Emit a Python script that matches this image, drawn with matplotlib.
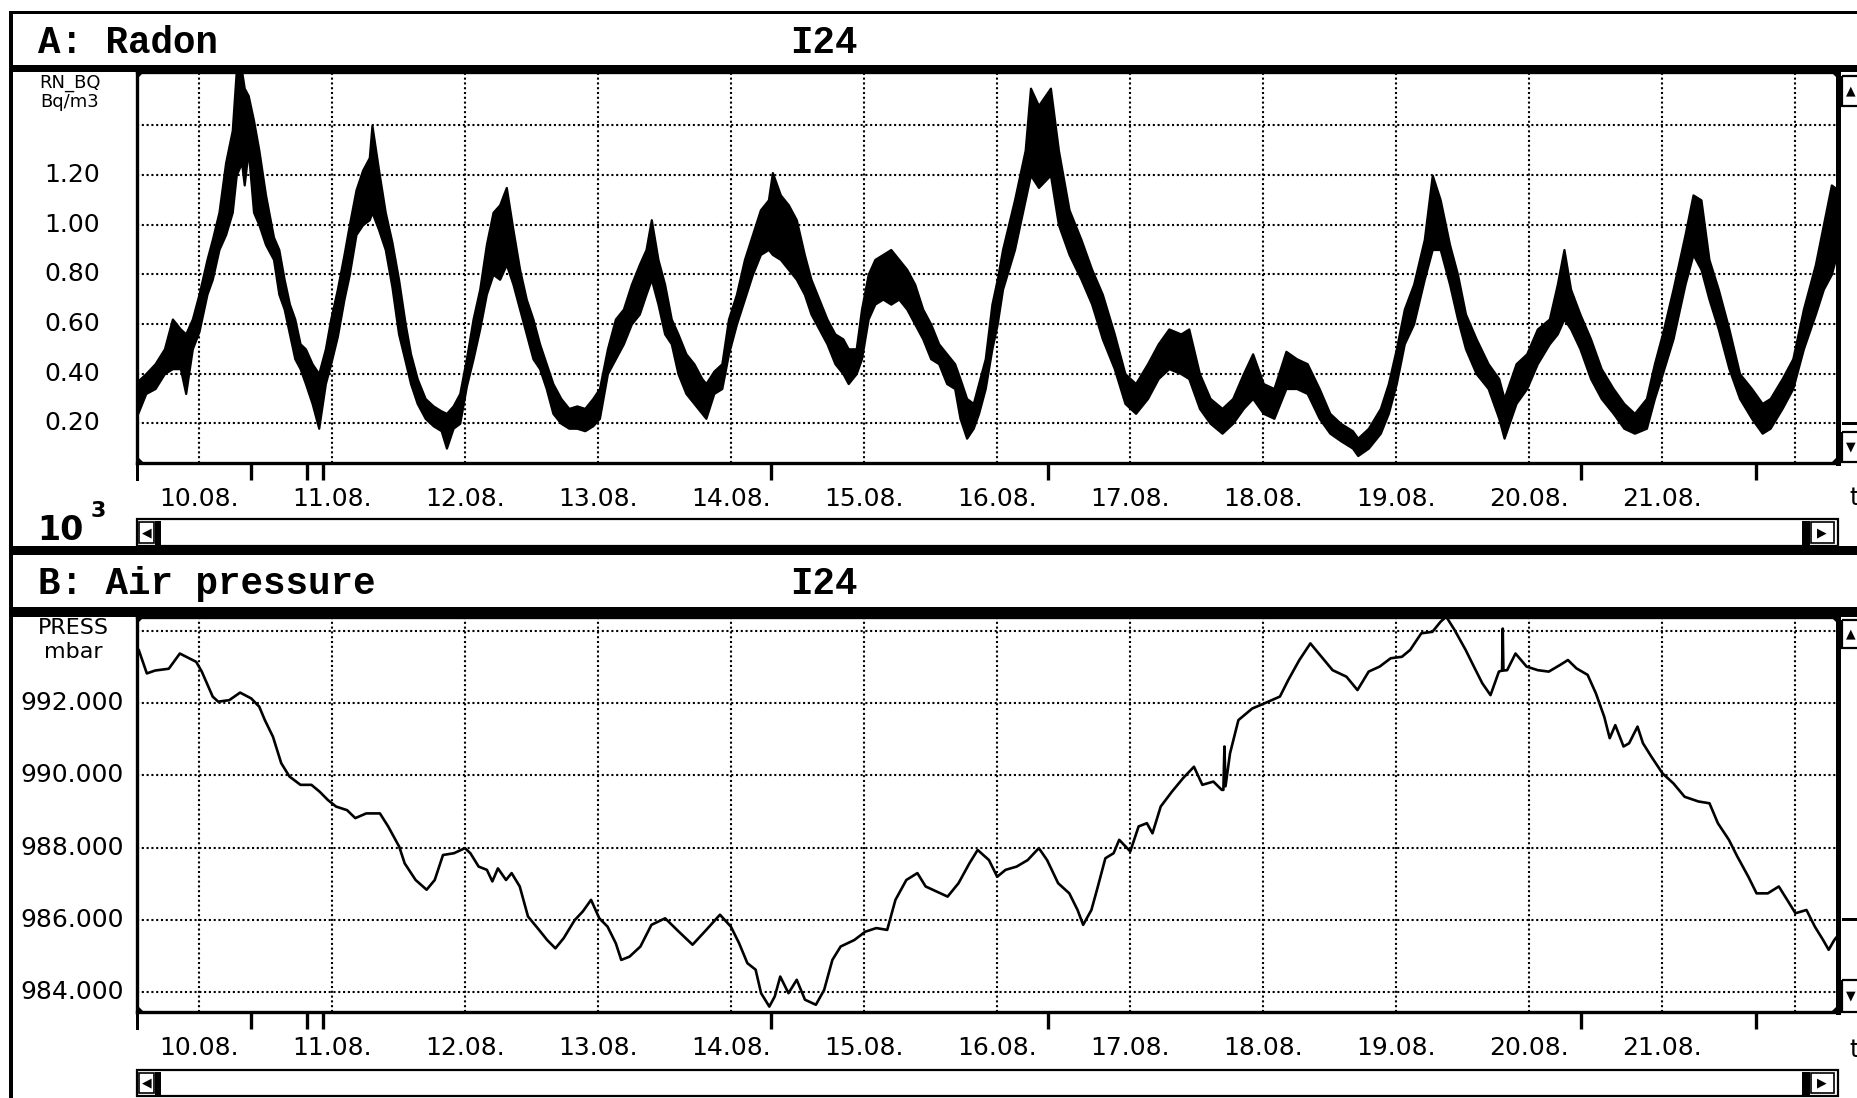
import matplotlib

matplotlib.use("Agg")
import matplotlib.pyplot as plt
from matplotlib.patches import Rectangle, Polygon

W, H = 1858, 1098

# time in days after 10.08. 00:00
rn_t = [-0.46, -0.40, -0.33, -0.26, -0.20, -0.14, -0.10, -0.05, 0.00, 0.06,
        0.10, 0.15, 0.20, 0.25, 0.28, 0.32, 0.34, 0.37, 0.41, 0.45,
        0.50, 0.56, 0.60, 0.64, 0.68, 0.72, 0.76, 0.80, 0.85, 0.90,
        0.95, 0.99, 1.04, 1.09, 1.13, 1.18, 1.23, 1.28, 1.30, 1.35,
        1.40, 1.45, 1.50, 1.55, 1.59, 1.64, 1.70, 1.76, 1.82, 1.86,
        1.91, 1.96, 2.01, 2.06, 2.11, 2.16, 2.21, 2.26, 2.31, 2.36,
        2.41, 2.46, 2.51, 2.56, 2.61, 2.66, 2.72, 2.78, 2.84, 2.90,
        2.96, 3.01, 3.07, 3.13, 3.19, 3.25, 3.31, 3.36, 3.40, 3.45,
        3.50, 3.55, 3.60, 3.66, 3.72, 3.78, 3.81, 3.87, 3.93, 3.98,
        4.04, 4.10, 4.16, 4.22, 4.28, 4.31, 4.37, 4.43, 4.49, 4.55,
        4.60, 4.66, 4.72, 4.78, 4.84, 4.88, 4.94, 4.98, 5.03, 5.08,
        5.14, 5.20, 5.26, 5.32, 5.38, 5.44, 5.50, 5.56, 5.62, 5.68,
        5.72, 5.77, 5.82, 5.86, 5.91, 5.96, 6.00, 6.04, 6.13, 6.21,
        6.25, 6.31, 6.40, 6.46, 6.54, 6.63, 6.71, 6.79, 6.88, 6.96,
        7.04, 7.13, 7.21, 7.29, 7.38, 7.44, 7.52, 7.60, 7.69, 7.77,
        7.85, 7.92, 8.00, 8.08, 8.17, 8.25, 8.33, 8.42, 8.50, 8.58,
        8.67, 8.71, 8.79, 8.88, 8.94, 9.00, 9.06, 9.13, 9.21, 9.27,
        9.33, 9.40, 9.46, 9.52, 9.60, 9.69, 9.77, 9.81, 9.90, 9.98,
        10.06, 10.15, 10.21, 10.26, 10.31, 10.38, 10.46, 10.54, 10.63, 10.71,
        10.79, 10.88, 10.94, 11.00, 11.08, 11.17, 11.23, 11.29, 11.35, 11.42,
        11.50, 11.58, 11.67, 11.75, 11.81, 11.90, 11.98, 12.06, 12.15, 12.21,
        12.27, 12.32]
# radon band, lower / upper edge (10^3 Bq/m3)
rn_lo = [0.24, 0.32, 0.34, 0.40, 0.42, 0.42, 0.32, 0.50, 0.57, 0.72,
         0.78, 0.90, 0.96, 1.05, 1.20, 1.25, 1.16, 1.30, 1.05, 1.00,
         0.92, 0.86, 0.72, 0.66, 0.56, 0.46, 0.42, 0.36, 0.28, 0.18,
         0.36, 0.44, 0.55, 0.70, 0.80, 0.96, 1.00, 1.02, 1.05, 0.98,
         0.90, 0.75, 0.56, 0.45, 0.36, 0.28, 0.22, 0.19, 0.17, 0.10,
         0.18, 0.20, 0.35, 0.46, 0.58, 0.72, 0.80, 0.78, 0.84, 0.76,
         0.66, 0.56, 0.46, 0.42, 0.34, 0.24, 0.20, 0.18, 0.18, 0.17,
         0.19, 0.22, 0.40, 0.46, 0.52, 0.60, 0.64, 0.72, 0.78, 0.68,
         0.56, 0.52, 0.40, 0.32, 0.28, 0.24, 0.22, 0.32, 0.34, 0.48,
         0.60, 0.70, 0.80, 0.88, 0.90, 0.88, 0.86, 0.82, 0.78, 0.72,
         0.64, 0.58, 0.52, 0.44, 0.40, 0.36, 0.40, 0.46, 0.62, 0.68,
         0.70, 0.68, 0.70, 0.66, 0.60, 0.54, 0.46, 0.44, 0.36, 0.34,
         0.22, 0.14, 0.18, 0.24, 0.34, 0.50, 0.60, 0.74, 0.90, 1.10,
         1.20, 1.15, 1.20, 1.00, 0.88, 0.78, 0.68, 0.54, 0.42, 0.28,
         0.24, 0.30, 0.38, 0.42, 0.40, 0.38, 0.26, 0.20, 0.16, 0.20,
         0.26, 0.30, 0.24, 0.22, 0.34, 0.34, 0.32, 0.22, 0.16, 0.13,
         0.10, 0.07, 0.10, 0.16, 0.24, 0.36, 0.52, 0.60, 0.78, 0.90,
         0.90, 0.76, 0.62, 0.50, 0.40, 0.34, 0.22, 0.14, 0.28, 0.34,
         0.44, 0.52, 0.56, 0.62, 0.58, 0.50, 0.38, 0.30, 0.24, 0.18,
         0.16, 0.18, 0.30, 0.40, 0.54, 0.76, 0.88, 0.82, 0.70, 0.58,
         0.42, 0.30, 0.22, 0.16, 0.18, 0.26, 0.34, 0.50, 0.64, 0.74,
         0.80, 0.90]
rn_hi = [0.37, 0.40, 0.44, 0.50, 0.62, 0.58, 0.56, 0.62, 0.72, 0.86,
         0.94, 1.05, 1.25, 1.38, 1.62, 1.62, 1.55, 1.52, 1.42, 1.30,
         1.12, 0.95, 0.90, 0.78, 0.68, 0.62, 0.52, 0.50, 0.44, 0.40,
         0.50, 0.62, 0.74, 0.88, 1.00, 1.14, 1.22, 1.27, 1.40, 1.22,
         1.05, 0.93, 0.78, 0.60, 0.48, 0.38, 0.30, 0.27, 0.25, 0.24,
         0.27, 0.32, 0.46, 0.62, 0.74, 0.92, 1.05, 1.08, 1.15, 0.98,
         0.82, 0.70, 0.62, 0.52, 0.44, 0.36, 0.30, 0.26, 0.27, 0.26,
         0.30, 0.34, 0.50, 0.62, 0.66, 0.76, 0.84, 0.90, 1.02, 0.86,
         0.76, 0.62, 0.56, 0.48, 0.44, 0.38, 0.36, 0.41, 0.44, 0.62,
         0.72, 0.86, 0.96, 1.06, 1.10, 1.21, 1.12, 1.08, 1.02, 0.88,
         0.78, 0.70, 0.62, 0.56, 0.54, 0.50, 0.50, 0.66, 0.80, 0.86,
         0.88, 0.90, 0.86, 0.82, 0.76, 0.66, 0.60, 0.52, 0.48, 0.44,
         0.38, 0.30, 0.28, 0.36, 0.46, 0.68, 0.78, 0.90, 1.10, 1.30,
         1.55, 1.48, 1.55, 1.30, 1.06, 0.94, 0.82, 0.72, 0.56, 0.40,
         0.36, 0.44, 0.52, 0.58, 0.56, 0.58, 0.40, 0.30, 0.26, 0.30,
         0.40, 0.48, 0.36, 0.34, 0.49, 0.46, 0.44, 0.34, 0.24, 0.20,
         0.17, 0.14, 0.18, 0.26, 0.36, 0.50, 0.66, 0.76, 0.94, 1.20,
         1.10, 0.92, 0.80, 0.64, 0.54, 0.44, 0.38, 0.30, 0.44, 0.48,
         0.58, 0.62, 0.76, 0.90, 0.74, 0.64, 0.54, 0.42, 0.34, 0.28,
         0.24, 0.30, 0.44, 0.56, 0.74, 0.96, 1.12, 1.10, 0.86, 0.74,
         0.58, 0.40, 0.34, 0.28, 0.30, 0.38, 0.46, 0.66, 0.84, 1.00,
         1.16, 1.14]

p_t = [-0.466, -0.453, -0.392, -0.330, -0.227, -0.144, -0.021, 0.021, 0.103, 0.144,
       0.227, 0.309, 0.392, 0.453, 0.495, 0.556, 0.618, 0.680, 0.763, 0.845,
       0.907, 0.969, 1.030, 1.113, 1.175, 1.257, 1.360, 1.422, 1.505, 1.546,
       1.628, 1.711, 1.772, 1.834, 1.917, 1.999, 2.040, 2.102, 2.164, 2.205,
       2.247, 2.308, 2.350, 2.411, 2.473, 2.556, 2.617, 2.679, 2.741, 2.824,
       2.885, 2.947, 3.009, 3.071, 3.133, 3.174, 3.236, 3.318, 3.401, 3.504,
       3.607, 3.710, 3.813, 3.916, 3.998, 4.060, 4.122, 4.184, 4.225, 4.287,
       4.328, 4.369, 4.431, 4.493, 4.555, 4.637, 4.699, 4.761, 4.823, 4.926,
       5.008, 5.091, 5.173, 5.235, 5.317, 5.400, 5.462, 5.544, 5.627, 5.709,
       5.791, 5.853, 5.938, 6.000, 6.063, 6.146, 6.229, 6.313, 6.375, 6.458,
       6.542, 6.604, 6.646, 6.708, 6.750, 6.813, 6.875, 6.917, 7.000, 7.063,
       7.125, 7.167, 7.229, 7.313, 7.396, 7.479, 7.542, 7.625, 7.688, 7.700,
       7.708, 7.716, 7.750, 7.813, 7.917, 8.013, 8.125, 8.188, 8.271, 8.354,
       8.438, 8.521, 8.625, 8.708, 8.792, 8.875, 8.958, 9.042, 9.104, 9.188,
       9.271, 9.333, 9.375, 9.438, 9.521, 9.583, 9.646, 9.708, 9.771, 9.795,
       9.800, 9.805, 9.833, 9.896, 9.979, 10.063, 10.146, 10.229, 10.290, 10.354,
       10.438, 10.500, 10.563, 10.604, 10.646, 10.708, 10.750, 10.813, 10.854, 10.917,
       11.000, 11.083, 11.167, 11.271, 11.354, 11.417, 11.500, 11.563, 11.646, 11.708,
       11.792, 11.875, 11.938, 12.000, 12.083, 12.146, 12.208, 12.250, 12.292, 12.325]
# air pressure (mbar)
p_mbar = [993.51, 993.47, 992.82, 992.90, 992.95, 993.37, 993.14, 992.87, 992.18, 992.04,
          992.08, 992.29, 992.13, 991.90, 991.53, 991.07, 990.34, 989.97, 989.74, 989.74,
          989.55, 989.32, 989.14, 989.04, 988.82, 988.95, 988.95, 988.59, 988.03, 987.57,
          987.11, 986.84, 987.11, 987.80, 987.85, 987.99, 987.85, 987.48, 987.39, 987.07,
          987.43, 987.11, 987.30, 986.93, 986.10, 985.73, 985.45, 985.22, 985.50, 986.00,
          986.24, 986.56, 986.05, 985.82, 985.36, 984.90, 984.99, 985.27, 985.87, 986.05,
          985.68, 985.32, 985.73, 986.15, 985.82, 985.36, 984.81, 984.63, 983.98, 983.61,
          983.89, 984.44, 983.98, 984.35, 983.80, 983.66, 984.07, 984.90, 985.27, 985.45,
          985.68, 985.78, 985.73, 986.56, 987.11, 987.30, 986.93, 986.79, 986.65, 987.02,
          987.57, 987.94, 987.66, 987.20, 987.39, 987.48, 987.66, 987.99, 987.66, 987.02,
          986.74, 986.28, 985.87, 986.28, 986.84, 987.71, 987.85, 988.22, 987.90, 988.59,
          988.68, 988.40, 989.14, 989.55, 989.92, 990.24, 989.74, 989.83, 989.60, 989.60,
          990.80, 989.70, 990.61, 991.53, 991.85, 992.00, 992.18, 992.64, 993.19, 993.65,
          993.28, 992.91, 992.73, 992.36, 992.87, 993.01, 993.24, 993.28, 993.47, 993.93,
          993.97, 994.25, 994.39, 994.02, 993.47, 993.01, 992.55, 992.22, 992.87, 992.90,
          994.06, 992.90, 992.91, 993.37, 993.01, 992.91, 992.87, 993.05, 993.19, 992.96,
          992.78, 992.27, 991.62, 991.03, 991.39, 990.80, 990.89, 991.35, 990.89, 990.52,
          990.06, 989.78, 989.41, 989.28, 989.23, 988.68, 988.22, 987.76, 987.20, 986.74,
          986.74, 986.93, 986.56, 986.19, 986.28, 985.82, 985.45, 985.18, 985.45, 985.60]

day_ticks = list(range(13))
day_labels = ["10.08.", "11.08.", "12.08.", "13.08.", "14.08.", "15.08.",
              "16.08.", "17.08.", "18.08.", "19.08.", "20.08.", "21.08.", ""]
event_days = [0.39, 0.81, 0.93, 4.30, 6.38, 10.39, 11.70]

rn_ticks = [0.2, 0.4, 0.6, 0.8, 1.0, 1.2, 1.4]
rn_tick_labels = ["0.20", "0.40", "0.60", "0.80", "1.00", "1.20", ""]
p_ticks = [984, 986, 988, 990, 992, 994]
p_tick_labels = ["984.000", "986.000", "988.000", "990.000", "992.000", ""]

X_RANGE = (-0.466, 12.32)
RN_RANGE = (0.04, 1.615)
P_RANGE = (983.46, 994.38)

LABEL_FONT = "DejaVu Sans"
TITLE_FONT = "Liberation Mono"


def frac_box(x0, y0, x1, y1):
    """Pixel box (top-left origin) -> figure-fraction rect."""
    return [x0 / W, 1 - y1 / H, (x1 - x0) / W, (y1 - y0) / H]


def setup_panel(ax, ylim, yticks, ylabels, top_px, bot_px):
    ax.set_xlim(*X_RANGE)
    ax.set_ylim(*ylim)
    ax.set_xticks(day_ticks)
    ax.set_yticks(yticks)
    ax.tick_params(length=0, labelbottom=False, labelleft=False)
    ax.grid(True, color="black", lw=1.5, ls=(0, (1, 1.3)))
    ax.set_axisbelow(True)
    for s in ax.spines.values():
        s.set_linewidth(2.4)
    ax.spines["right"].set_linewidth(3.6)

    span_x = 1838 - 137
    span_y = bot_px - top_px
    lab_x = (72 - 137) / span_x
    for v, s in zip(yticks, ylabels):
        ax.text(lab_x, v, s, transform=ax.get_yaxis_transform(), ha="center",
                va="center", fontsize=18, family=LABEL_FONT, clip_on=False)
    lab_y = -36 / span_y
    for d, s in zip(day_ticks, day_labels):
        ax.text(d, lab_y, s, transform=ax.get_xaxis_transform(), ha="center",
                va="center", fontsize=18, family=LABEL_FONT, clip_on=False)
    # event markers below the time axis
    ax.vlines(event_days, -17 / span_y, 0, transform=ax.get_xaxis_transform(),
              color="black", lw=2.4, clip_on=False)


fig = plt.figure(figsize=(W / 100, H / 100), dpi=100)
fig.patch.set_facecolor("white")

ax_a = fig.add_axes(frac_box(137, 72, 1838, 463))
setup_panel(ax_a, RN_RANGE, rn_ticks, rn_tick_labels, 72, 463)
ax_a.fill_between(rn_t, rn_lo, rn_hi, color="black", lw=1.6,
                  edgecolor="black", zorder=3)

ax_b = fig.add_axes(frac_box(137, 617, 1838, 1012))
setup_panel(ax_b, P_RANGE, p_ticks, p_tick_labels, 617, 1012)
ax_b.plot(p_t, p_mbar, color="black", lw=1.9, zorder=3)

# screen furniture drawn in pixel coordinates
ov = fig.add_axes([0, 0, 1, 1], zorder=5)
ov.set_xlim(0, W)
ov.set_ylim(H, 0)
ov.axis("off")


def block(x0, y0, x1, y1):
    ov.add_patch(Rectangle((x0, y0), x1 - x0, y1 - y0, color="black", lw=0))


def frame(x0, y0, x1, y1, lw=1.6):
    ov.add_patch(Rectangle((x0, y0), x1 - x0, y1 - y0, fill=False,
                           edgecolor="black", lw=lw))


block(9, 11, W, 14)      # outer top
block(9, 11, 13, H)      # outer left
block(9, 65, W, 72)      # header A rule
block(9, 546, W, 555)    # separator
block(9, 607, W, 617)    # header B rule

for top, bot in [(72, 463), (617, 1012)]:
    # rounded inner corners of the plot frame
    for cx, cy, sx, sy in [(137, top, 1, 1), (1838, top, -1, 1),
                           (137, bot, 1, -1), (1838, bot, -1, -1)]:
        ov.add_patch(Polygon([(cx, cy), (cx + 7 * sx, cy), (cx, cy + 7 * sy)],
                             color="black", lw=0))
    block(136, bot, 139, bot + 18)

for y0, y1 in [(519, 546), (1070, 1096)]:
    frame(137, y0, 1838, y1)
    frame(139, y0 + 3, 154, y1 - 3, lw=1.2)
    ov.text(146.5, (y0 + y1) / 2, "\u25c0", ha="center", va="center",
            fontsize=9, family="DejaVu Sans")
    block(155, y0 + 2, 161, y1 - 1)
    block(1802, y0 + 2, 1810, y1 - 1)
    frame(1811, y0 + 3, 1834, y1 - 3, lw=1.2)
    ov.text(1822, (y0 + y1) / 2, "\u25b6", ha="center", va="center",
            fontsize=9, family="DejaVu Sans")

# right-hand vertical scroll bars (partly cut off)
for up0, up1, mid, dn0, dn1 in [(76, 106, 422, 432, 462),
                                (620, 648, 918, 980, 1012)]:
    frame(1842, up0, 1862, up1, lw=1.6)
    ov.text(1851, (up0 + up1) / 2, "\u25b2", ha="center", va="center",
            fontsize=9, family="DejaVu Sans")
    block(1842, mid, W, mid + 3)
    frame(1842, dn0, 1862, dn1, lw=1.6)
    ov.text(1851, (dn0 + dn1) / 2, "\u25bc", ha="center", va="center",
            fontsize=9, family="DejaVu Sans")

# headers
for y, name in [(43, "A: Radon"), (584, "B: Air pressure")]:
    ov.text(38, y, name, ha="left", va="center", fontsize=27,
            family=TITLE_FONT, weight="bold")
    ov.text(790, y, "I24", ha="left", va="center", fontsize=27,
            family=TITLE_FONT, weight="bold")

# units in the label column
ov.text(70, 83, "RN_BQ", ha="center", va="center", fontsize=13, family=LABEL_FONT)
ov.text(70, 102, "Bq/m3", ha="center", va="center", fontsize=13, family=LABEL_FONT)
ov.text(73, 628, "PRESS", ha="center", va="center", fontsize=16, family=LABEL_FONT)
ov.text(73, 652, "mbar", ha="center", va="center", fontsize=16, family=LABEL_FONT)

ov.text(37, 530, "10", ha="left", va="center", fontsize=24,
        family="DejaVu Sans", weight="bold")
ov.text(91, 511, "3", ha="left", va="center", fontsize=16,
        family="DejaVu Sans", weight="bold")

for y in (498, 1050):
    ov.text(1849, y, "t", ha="left", va="center", fontsize=18, family=LABEL_FONT)

fig.savefig("out.png", dpi=100, facecolor="white")
